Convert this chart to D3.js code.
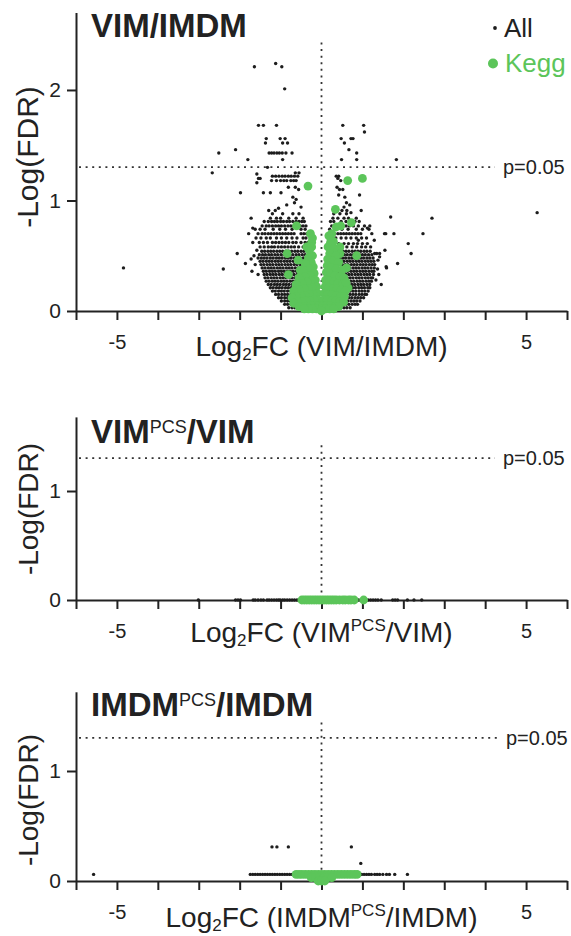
<!DOCTYPE html>
<html><head><meta charset="utf-8">
<script src="https://cdn.jsdelivr.net/npm/d3@7"></script>
<style>html,body{margin:0;padding:0;background:#fff;} svg{display:block;}</style>
</head><body>
<svg id="c" width="571" height="936"></svg>
<script>
// ---------- data ----------
const xTicks = [-6,-5,-4,-3,-2,-1,0,1,2,3,4,5,6];
const xTickLabels = {"-5":"-5","5":"5"};
const pThreshold = 0.05;
const pLabel = "p=0.05";
const legendLabels = ["All","Kegg"];
const yLabel = "-Log(FDR)";

// VIM/IMDM: rows of [-log(FDR), [log2FC ...]] for all proteins
const vimAllRows = [
 [2.24,[-1.12]],
 [2.21,[-1.64,-0.97]],
 [2.01,[-0.90]],
 [1.68,[-1.54,-1.42,-1.10,0.52,1.03]],
 [1.62,[1.05]],
 [1.56,[-1.35,-1.01,-0.89,0.48,0.72,0.77]],
 [1.52,[-1.37,-0.95,-0.83,0.56]],
 [1.46,[-2.10,0.67]],
 [1.43,[-2.51,-1.28,-1.22,-1.16,-1.09,-1.03,-0.96,-0.87,-0.72,0.86]],
 [1.37,[-1.80,-0.95,0.49,0.86,1.83]],
 [1.30,[-1.32]],
 [1.25,[-2.67,-0.64,-0.55]],
 [1.24,[-1.58]],
 [1.22,[-1.20,-1.12,-1.04,-0.96,-0.89,-0.81,-0.74,-0.66,-0.58,0.36,0.42]],
 [1.20,[-1.54,-1.50,0.40]],
 [1.18,[-1.22,-1.10,-1.00,-0.92,-0.85,-0.75,-0.68,-0.62,0.47]],
 [1.16,[-1.58]],
 [1.12,[-0.81,-0.64,0.38]],
 [1.10,[-0.56,0.44,0.52]],
 [1.07,[-1.98,-1.42,-1.25,-0.99]],
 [1.05,[0.42,0.93]],
 [1.03,[-0.70,0.57]],
 [1.01,[-0.62]],
 [0.98,[-0.66,0.61]],
 [0.96,[-0.85,0.69]],
 [0.94,[-0.50,0.55]],
 [0.93,[-1.05]],
 [0.91,[-1.29,-1.13,0.50,0.62,0.97]],
 [0.89,[0.72,5.27]],
 [0.88,[-1.20,-0.95,-0.70,-0.55,0.30,0.45,0.61]],
 [0.85,[1.69]],
 [0.84,[-1.72,-1.25,-1.10,-1.00,-0.80,-0.62,-0.45,0.28,0.40,0.55,0.66,0.85,2.70]],
 [0.81,[-1.40,-1.30,-1.22,-1.15,-1.08,-1.00,-0.93,-0.85,-0.78,-0.70,-0.62,-0.55,-0.48,-0.42,0.22,0.30,0.48,0.60,0.82,0.92]],
 [0.77,[-1.45,-1.35,-1.28,-1.20,-1.12,-1.05,-0.98,-0.90,-0.82,-0.75,-0.68,-0.52,-0.45,-0.38,0.25,0.60,0.68,0.78,0.90,1.05,1.18]],
 [0.75,[-1.68,1.12]],
 [0.74,[-1.62,-1.50,-1.38,-1.18,-1.02,-0.88,-0.72,-0.50,-0.40,0.20,0.35,0.50,0.65,0.85,1.00,1.16]],
 [0.70,[-1.78,-1.55,-1.45,-1.38,-1.30,-1.23,-1.16,-1.09,-1.02,-0.95,-0.88,-0.81,-0.74,-0.67,-0.50,-0.43,-0.36,0.18,0.25,0.32,0.40,0.47,0.54,0.61,0.68,0.75,0.82,0.89,0.96,1.23,1.54,1.57,1.77,2.48]],
 [0.66,[-1.60,-1.48,-1.35,-1.25,-1.10,-0.98,-0.85,-0.72,-0.60,-0.45,-0.38,0.22,0.35,0.48,0.60,0.72,0.85,0.98,1.10]],
 [0.64,[0.90,1.29]],
 [0.62,[-1.68,-1.52,-1.42,-1.32,-1.20,-1.12,-1.04,-0.96,-0.88,-0.80,-0.70,-0.62,-0.50,-0.40,-0.33]],
 [0.61,[0.20,0.30,0.42,0.55,0.66,0.78,0.88,1.00,1.12,2.12]],
 [0.58,[-1.50,-1.40,-1.30,-1.22,-1.15,-1.06,-0.98,-0.90,-0.82,-0.74,-0.66,-0.56,-0.45,-0.36,0.25,0.38,0.50,0.62,0.75,0.86,0.98,1.08,1.20]],
 [0.55,[-1.58,1.55]],
 [0.54,[-1.46,-1.39,-1.31,-1.24,-1.17,-1.09,-1.02,-0.95,-0.87,-0.80,-0.73,-0.65,-0.58,-0.50,-0.43,-0.36,0.24,0.31,0.38,0.46,0.53,0.60,0.67,0.75,0.82,0.89,0.96,1.04,1.11,1.19]],
 [0.52,[-2.06,1.30,1.35,1.42,2.19]],
 [0.51,[-1.52,-1.44,-1.37,-1.29,-1.22,-1.14,-1.07,-0.99,-0.92,-0.84,-0.77,-0.70,-0.62,-0.55,-0.47,-0.40,0.27,0.34,0.42,0.49,0.56,0.63,0.71,0.78,0.85,0.93,1.00,1.07,1.15,1.23]],
 [0.50,[-1.65]],
 [0.49,[1.42]],
 [0.48,[-1.55,-1.47,-1.40,-1.33,-1.25,-1.18,-1.10,-1.03,-0.96,-0.88,-0.81,-0.74,-0.66,-0.59,-0.52,-0.44,0.30,0.37,0.45,0.52,0.59,0.67,0.74,0.81,0.89,0.96,1.03,1.11,1.18,1.26]],
 [0.47,[-1.72]],
 [0.46,[1.38]],
 [0.45,[-1.50,-1.43,-1.35,-1.28,-1.21,-1.13,-1.06,-0.99,-0.91,-0.84,-0.77,-0.69,-0.62,-0.55,-0.47,0.33,0.41,0.48,0.55,0.63,0.70,0.77,0.85,0.92,0.99,1.07,1.14,1.21,1.28]],
 [0.43,[-1.86,1.86]],
 [0.42,[-1.62,-1.48,-1.41,-1.33,-1.26,-1.19,-1.11,-1.04,-0.97,-0.89,-0.82,-0.75,-0.67,-0.60,-0.52,-0.45,0.36,0.43,0.51,0.58,0.65,0.73,0.80,0.87,0.95,1.02,1.09,1.17,1.24,1.30]],
 [0.40,[1.58]],
 [0.39,[-4.84,-1.45,-1.38,-1.30,-1.23,-1.16,-1.08,-1.01,-0.94,-0.86,-0.79,-0.72,-0.64,-0.57,-0.49,0.40,0.47,0.55,0.62,0.69,0.77,0.84,0.91,0.99,1.06,1.13,1.21,1.29,1.59]],
 [0.38,[-2.40,1.37]],
 [0.36,[-1.70,-1.42,-1.35,-1.27,-1.20,-1.13,-1.05,-0.98,-0.91,-0.83,-0.76,-0.69,-0.61,-0.54,0.42,0.50,0.57,0.64,0.72,0.79,0.86,0.94,1.01,1.08,1.16,1.23,1.28]],
 [0.33,[-1.55,-1.40,-1.33,-1.25,-1.18,-1.11,-1.03,-0.96,-0.89,-0.81,-0.74,-0.67,-0.59,-0.52,0.45,0.52,0.60,0.67,0.74,0.82,0.89,0.96,1.04,1.11,1.18,1.27,1.40]],
 [0.30,[-1.38,-1.31,-1.23,-1.16,-1.09,-1.01,-0.94,-0.87,-0.79,-0.72,-0.65,-0.57,0.48,0.55,0.63,0.70,0.77,0.85,0.92,0.99,1.07,1.14,1.21,1.25]],
 [0.28,[1.33]],
 [0.27,[-1.35,-1.28,-1.20,-1.13,-1.06,-0.98,-0.91,-0.84,-0.76,-0.69,-0.62,0.50,0.57,0.65,0.72,0.79,0.87,0.94,1.01,1.09,1.16,1.22]],
 [0.24,[-1.30,-1.23,-1.15,-1.08,-1.01,-0.93,-0.86,-0.79,-0.71,-0.64,0.52,0.59,0.67,0.74,0.81,0.89,0.96,1.03,1.11,1.18,1.46]],
 [0.21,[-1.25,-1.18,-1.10,-1.03,-0.96,-0.88,-0.81,-0.74,-0.66,0.54,0.61,0.69,0.76,0.83,0.91,0.98,1.05,1.13,1.18]],
 [0.18,[-1.20,-1.13,-1.05,-0.98,-0.91,-0.83,-0.76,-0.68,0.55,0.62,0.70,0.77,0.84,0.92,0.99,1.06,1.14]],
 [0.15,[-1.12,-1.05,-0.97,-0.90,-0.83,-0.75,-0.68,0.55,0.62,0.70,0.77,0.84,0.92,0.99,1.06,1.10]],
 [0.12,[-1.05,-0.98,-0.90,-0.83,-0.76,-0.68,0.52,0.60,0.67,0.74,0.82,0.89,0.96,1.03]],
 [0.09,[-0.98,-0.90,-0.83,-0.76,-0.68,-0.62,0.50,0.57,0.64,0.72,0.79,0.86,0.94]],
 [0.06,[-0.90,-0.83,-0.75,-0.68,-0.60,0.45,0.52,0.60,0.67,0.75,0.82,0.88]],
 [0.03,[-0.80,-0.72,-0.65,-0.57,0.40,0.48,0.55,0.62,0.70]]
];

// VIM/IMDM: KEGG proteins [log2FC, -log(FDR)]
const vimKegg = [
 [-0.33,1.13],[0.64,1.18],[1.00,1.20],[0.34,0.92],[0.73,0.80],[0.47,0.77],[0.36,0.76],[-0.61,0.77],
 [-0.27,0.70],[0.25,0.70],[-0.24,0.62],[0.29,0.63],[0.25,0.60],[0.45,0.58],[-0.36,0.58],[-0.84,0.52],
 [0.45,0.52],[0.86,0.50],[-0.57,0.46],[-0.52,0.37],[0.61,0.39],[-0.81,0.33],[0.65,0.21],
 [-0.22,0.66],[-0.24,0.58],[-0.30,0.55],[-0.22,0.50],[-0.32,0.48],[-0.25,0.44],[-0.40,0.43],[-0.20,0.40],
 [-0.30,0.38],[-0.45,0.36],[-0.18,0.34],[-0.28,0.32],[-0.40,0.31],[-0.55,0.30],[-0.15,0.28],[-0.25,0.27],
 [-0.35,0.26],[-0.48,0.25],[-0.62,0.24],[-0.12,0.22],[-0.22,0.21],[-0.32,0.20],[-0.42,0.20],[-0.55,0.19],
 [-0.68,0.18],[-0.10,0.16],[-0.20,0.15],[-0.30,0.15],[-0.40,0.14],[-0.50,0.13],[-0.62,0.13],[-0.72,0.12],
 [-0.08,0.10],[-0.18,0.10],[-0.28,0.09],[-0.38,0.09],[-0.48,0.08],[-0.58,0.08],[-0.68,0.07],[-0.05,0.05],
 [-0.15,0.05],[-0.25,0.05],[-0.35,0.04],[-0.45,0.04],[-0.55,0.04],[-0.03,0.02],[-0.12,0.02],[-0.22,0.02],
 [-0.32,0.02],[-0.42,0.02],
 [0.18,0.68],[0.22,0.62],[0.16,0.58],[0.30,0.56],[0.20,0.52],[0.35,0.50],[0.15,0.47],[0.28,0.45],
 [0.42,0.44],[0.14,0.41],[0.24,0.39],[0.36,0.38],[0.50,0.37],[0.12,0.35],[0.22,0.33],[0.32,0.32],
 [0.44,0.31],[0.55,0.30],[0.10,0.28],[0.20,0.27],[0.30,0.26],[0.40,0.25],[0.52,0.24],[0.60,0.26],
 [0.09,0.22],[0.18,0.21],[0.28,0.20],[0.38,0.20],[0.48,0.19],[0.58,0.18],[0.07,0.16],[0.16,0.15],
 [0.26,0.15],[0.36,0.14],[0.46,0.13],[0.56,0.13],[0.06,0.10],[0.14,0.10],[0.24,0.09],[0.34,0.09],
 [0.44,0.08],[0.54,0.08],[0.04,0.05],[0.12,0.05],[0.22,0.05],[0.32,0.04],[0.42,0.04],[0.02,0.02],
 [0.10,0.02],[0.20,0.02],[0.30,0.02],[0.00,0.00]
];

// VIMPCS/VIM
const pcsAllRows = [
 [0.00,[-3.01,-2.10,-2.04,-1.98,-1.67,-1.62,-1.55,-1.48,-1.42,-1.33,-1.28,-1.22,-1.16,-1.10,-1.05,-1.01,-0.95,-0.90,-0.84,-0.78,-0.72,-0.66,-0.60,-0.55,-0.50,0.85,0.90,0.96,1.02,1.08,1.14,1.20,1.26,1.32,1.38,1.46,1.74,1.80,1.86,2.10,2.26,2.45]]
];
const pcsKegg = [
 [-0.48,0],[-0.42,0],[-0.36,0],[-0.30,0],[-0.24,0],[-0.18,0],[-0.12,0],[-0.06,0],[0.00,0],[0.06,0],[0.12,0],
 [0.18,0],[0.24,0],[0.30,0],[0.36,0],[0.44,0],[0.52,0],[0.58,0],[0.66,0],[0.72,0],[0.80,0],[1.03,0]
];

// IMDMPCS/IMDM
const imdmAllRows = [
 [0.31,[-1.21,-1.09,-0.81,0.73]],
 [0.16,[0.96]],
 [0.06,[-5.57,-1.74,-1.68,-1.62,-1.56,-1.50,-1.44,-1.38,-1.32,-1.26,-1.20,-1.14,-1.08,-1.02,-0.96,-0.90,-0.84,-0.78,-0.72,-0.66,0.92,0.98,1.04,1.10,1.16,1.22,1.30,1.36,1.42,1.50,1.59,1.66,1.79,2.10]]
];
const imdmKegg = [
 [-0.62,0.06],[-0.55,0.06],[-0.48,0.06],[-0.40,0.06],[-0.32,0.06],[-0.24,0.06],[-0.16,0.06],[-0.08,0.06],
 [0.00,0.06],[0.08,0.06],[0.16,0.06],[0.24,0.06],[0.32,0.06],[0.40,0.06],[0.48,0.06],[0.56,0.06],
 [0.64,0.06],[0.72,0.06],[0.80,0.06],[0.87,0.06],
 [-0.25,0.03],[-0.15,0.03],[-0.05,0.03],[0.05,0.03],[0.15,0.03],[0.25,0.03],
 [-0.08,0.00],[0.00,0.00],[0.08,0.00]
];

const titles = [
 [["VIM/IMDM","n"]],
 [["VIM","n"],["PCS","sup"],["/VIM","n"]],
 [["IMDM","n"],["PCS","sup"],["/IMDM","n"]]
];
const xLabels = [
 [["Log","n"],["2","sub"],["FC (VIM/IMDM)","n"]],
 [["Log","n"],["2","sub"],["FC (VIM","n"],["PCS","sup"],["/VIM)","n"]],
 [["Log","n"],["2","sub"],["FC (IMDM","n"],["PCS","sup"],["/IMDM)","n"]]
];

// ---------- layout ----------
const FONT = "'Liberation Sans', Arial, Helvetica, sans-serif";
const INK = "#222", DOT = "#1d1d1d", GREEN = "#5cc55a";
const svg = d3.select("#c");
svg.append("rect").attr("width",571).attr("height",936).attr("fill","#fff");
const x = d3.scaleLinear().domain([-6,6]).range([76,567]);

const panels = [
 {rows:vimAllRows, kegg:vimKegg, title:titles[0], xlab:xLabels[0], yDomain:[0,2.7], yRange:[311,12.6], yTicks:[0,1,2], vTop:2.43, titleY:37, ylabY:157, ylabSize:30, xlabY:356, pX:503, legend:true},
 {rows:pcsAllRows, kegg:pcsKegg, title:titles[1], xlab:xLabels[1], yDomain:[0,1.68], yRange:[600,416.9], yTicks:[0,1], vTop:1.42, titleY:443, ylabY:509, ylabSize:28, xlabY:642, pX:503, legend:false},
 {rows:imdmAllRows, kegg:imdmKegg, title:titles[2], xlab:xLabels[2], yDomain:[0,1.72], yRange:[881,691.8], yTicks:[0,1], vTop:1.44, titleY:716, ylabY:800, ylabSize:28, xlabY:927, pX:506, legend:false}
];

function richText(sel, parts, mainSize, opts){
  let cur = 0;
  parts.forEach(([t,k])=>{
    let target = 0, size = mainSize, weight = opts.weight;
    if(k==="sup"){ target = opts.supShift; size = opts.supSize; weight = "normal"; }
    if(k==="sub"){ target = opts.subShift; size = opts.subSize; }
    sel.append("tspan").attr("dy", target-cur).attr("font-size",size).attr("font-weight",weight).text(t);
    cur = target;
  });
}

panels.forEach(p=>{
  const y = d3.scaleLinear().domain(p.yDomain).range(p.yRange);
  const g = svg.append("g").attr("font-family",FONT);
  const yP = y(-Math.log10(pThreshold));

  // threshold lines
  g.append("line").attr("x1",x(-6)+3).attr("x2",p.pX-8).attr("y1",yP).attr("y2",yP)
    .attr("stroke","#333").attr("stroke-width",1.8).attr("stroke-dasharray","2 4.6");
  g.append("line").attr("x1",x(0)).attr("x2",x(0)).attr("y1",y(p.vTop)).attr("y2",y(0))
    .attr("stroke","#333").attr("stroke-width",1.8).attr("stroke-dasharray","2 4.6");
  g.append("text").attr("x",p.pX).attr("y",yP).attr("dy","0.36em").attr("font-size",20)
    .attr("fill",INK).text(pLabel);

  // axes
  const gx = g.append("g").attr("transform",`translate(0,${y(0)})`)
    .call(d3.axisBottom(x).tickValues(xTicks).tickSize(9).tickSizeOuter(0).tickPadding(15)
      .tickFormat(d=>xTickLabels[String(d)]||""));
  const gy = g.append("g").attr("transform",`translate(${x(-6)},0)`)
    .call(d3.axisLeft(y).tickValues(p.yTicks).tickSize(9).tickSizeOuter(0).tickPadding(6)
      .tickFormat(d3.format("d")));
  [gx,gy].forEach(a=>{
    a.attr("font-family",FONT);
    a.select(".domain").attr("stroke",INK).attr("stroke-width",2);
    a.selectAll(".tick line").attr("stroke",INK).attr("stroke-width",2);
    a.selectAll(".tick text").attr("fill",INK).attr("font-size",20);
  });
  gy.selectAll(".tick text").attr("font-size",21);

  // all proteins
  const pts = [];
  p.rows.forEach(([yv,xs])=>xs.forEach(xv=>pts.push([xv,yv])));
  g.append("g").selectAll("circle").data(pts).join("circle")
    .attr("cx",d=>x(d[0])).attr("cy",d=>y(d[1])).attr("r",1.7).attr("fill",DOT);
  // KEGG proteins
  g.append("g").selectAll("circle").data(p.kegg).join("circle")
    .attr("cx",d=>x(d[0])).attr("cy",d=>y(d[1])).attr("r",4.4).attr("fill",GREEN);

  // title
  const tt = g.append("text").attr("x",91).attr("y",p.titleY).attr("fill",INK);
  richText(tt, p.title, 33, {weight:"bold", supShift:-10.5, supSize:18});

  // axis labels
  const xl = g.append("text").attr("x",x(0)).attr("y",p.xlabY).attr("text-anchor","middle").attr("fill",INK);
  richText(xl, p.xlab, 28, {weight:"normal", supShift:-11.5, supSize:17, subShift:4, subSize:17});
  g.append("text").attr("transform",`translate(38,${p.ylabY}) rotate(-90)`)
    .attr("text-anchor","middle").attr("font-size",p.ylabSize).attr("fill",INK).text(yLabel);

  if(p.legend){
    g.append("circle").attr("cx",495).attr("cy",28).attr("r",1.9).attr("fill",DOT);
    g.append("text").attr("x",504).attr("y",37).attr("font-size",26).attr("fill",INK).text(legendLabels[0]);
    g.append("circle").attr("cx",493).attr("cy",63.5).attr("r",5).attr("fill",GREEN);
    g.append("text").attr("x",505).attr("y",72).attr("font-size",26).attr("fill",GREEN).text(legendLabels[1]);
  }
});
</script>
</body></html>
